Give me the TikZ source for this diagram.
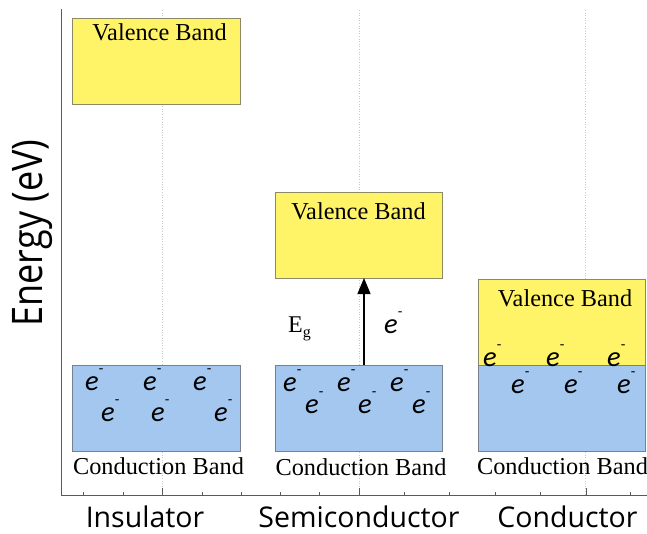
\documentclass[tikz,border=0pt]{standalone}
\usepackage{fontspec}
\setmainfont{Liberation Serif}
\newfontfamily\osans{Open Sans}
\newfontfamily\carl{Carlito}
\usetikzlibrary{arrows.meta}
\definecolor{bandyellow}{RGB}{255,243,104}
\definecolor{bandblue}{RGB}{164,199,240}
\definecolor{yedge}{RGB}{140,138,100}
\definecolor{bedge}{RGB}{118,128,142}
\definecolor{axisgray}{RGB}{90,90,90}
\newcommand\elsym{\textit{e}\raisebox{17pt}{\fontsize{15}{15}\selectfont -}}
\tikzset{
  vband/.style={draw=yedge, fill=bandyellow, line width=0.9pt, minimum width=167pt, minimum height=86pt, inner sep=0pt, outer sep=0pt},
  cband/.style={draw=bedge, fill=bandblue, line width=0.9pt, minimum width=167pt, minimum height=86pt, inner sep=0pt, outer sep=0pt},
  bandtext/.style={font=\fontsize{24.3}{25}\selectfont, anchor=base, inner sep=0pt},
  cattext/.style={font=\osans\fontsize{28.5}{29}\selectfont, anchor=base, inner sep=0pt},
  elec/.style={font=\carl\fontsize{28.5}{29}\selectfont, anchor=base west, inner sep=0pt},
  gridln/.style={draw=gray!45, dotted, line width=0.6pt},
  axisln/.style={draw=axisgray, line width=1pt},
  tickln/.style={draw=axisgray, line width=0.7pt},
  arr/.style={draw=black, line width=1.2pt, -{Triangle[length=16pt,width=13pt]}}
}
\begin{document}
\begin{tikzpicture}[x=1pt,y=-1pt]
\useasboundingbox (0,0) rectangle (647,533);
% grid lines
\foreach \gx in {162,359,585} \draw[gridln] (\gx,10) -- (\gx,495);
% bands
\node[vband, minimum width=168pt] (iv) at (156,61.5) {};
\node[cband, minimum width=168pt] (ic) at (156,408) {};
\node[vband] (sv) at (358.5,235) {};
\node[cband] (sc) at (358.5,408) {};
\node[vband] (cv) at (561.5,322) {};
\node[cband] (cc) at (561.5,408) {};
% band texts
\node[bandtext] (ivt) at (159.5,40) {Valence Band};
\node[bandtext] (svt) at (358.5,219) {Valence Band};
\node[bandtext] (cvt) at (565,306) {Valence Band};
\node[bandtext] (ict) at (158.5,474) {Conduction Band};
\node[bandtext] (sct) at (361,475) {Conduction Band};
\node[bandtext] (cct) at (562.5,474) {Conduction Band};
% electrons
\node[elec] (ie1) at (85,390) {\elsym};
\node[elec] (ie2) at (143,390) {\elsym};
\node[elec] (ie3) at (193,390) {\elsym};
\node[elec] (ie4) at (101,421) {\elsym};
\node[elec] (ie5) at (151,421) {\elsym};
\node[elec] (ie6) at (214,421) {\elsym};
\node[elec] (se1) at (283,391) {\elsym};
\node[elec] (se2) at (337,391) {\elsym};
\node[elec] (se3) at (390,391) {\elsym};
\node[elec] (se4) at (305,413) {\elsym};
\node[elec] (se5) at (358,413) {\elsym};
\node[elec] (se6) at (412,413) {\elsym};
\node[elec] (ce1) at (483,366) {\elsym};
\node[elec] (ce2) at (546,366) {\elsym};
\node[elec] (ce3) at (607,366) {\elsym};
\node[elec] (ce4) at (511,393) {\elsym};
\node[elec] (ce5) at (564,393) {\elsym};
\node[elec] (ce6) at (617,393) {\elsym};
% gap arrow
\coordinate (a0) at (364,365);
\draw[arr] (a0) -- (a0 |- sv.south);
\node[elec] (ae) at (384,333) {\elsym};
\node[anchor=base west, inner sep=0pt, font=\fontsize{24}{24}\selectfont] (eg) at (288,332) {E\raisebox{-5pt}{\fontsize{16}{16}\selectfont g}};
% axes
\draw[axisln] (61,9) -- (61,495) -- (647,495);
\foreach \tx in {83,123,202,241,280,319,404,449,495,540,630} \draw[tickln] (\tx,495) -- (\tx,491.5);
\foreach \tx in {162,359,586} \draw[tickln] (\tx,495) -- (\tx,488);
% labels
\node[cattext] (l1) at (145,527) {Insulator};
\node[cattext] (l2) at (359,527) {Semiconductor};
\node[cattext] (l3) at (567.5,527) {Conductor};
\node[font=\osans\fontsize{36}{36}\selectfont, rotate=90, inner sep=0pt] (ylab) at (33,233) {\scalebox{1}[1.17]{Energy (eV)}};
\end{tikzpicture}
\end{document}
